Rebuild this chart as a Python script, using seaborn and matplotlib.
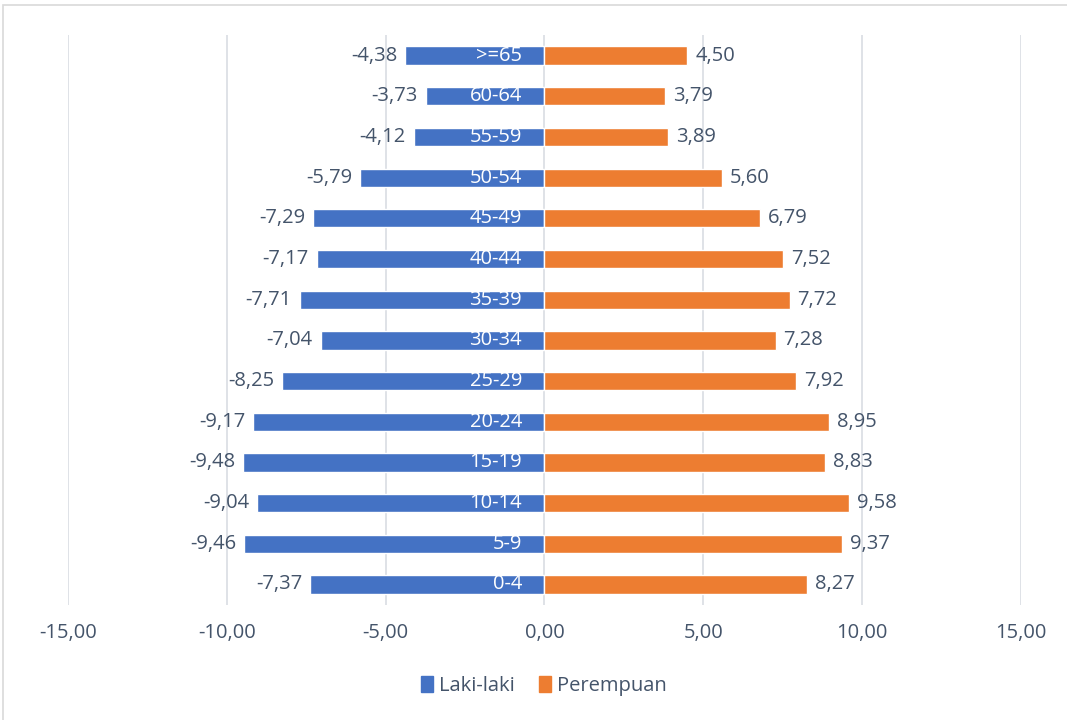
import pandas as pd
import seaborn as sns
import matplotlib.pyplot as plt
from matplotlib.patches import Patch, Rectangle

# age groups, top to bottom
ages = ['>=65', '60-64', '55-59', '50-54', '45-49', '40-44', '35-39',
        '30-34', '25-29', '20-24', '15-19', '10-14', '5-9', '0-4']
laki = [-4.38, -3.73, -4.12, -5.79, -7.29, -7.17, -7.71,
        -7.04, -8.25, -9.17, -9.48, -9.04, -9.46, -7.37]
perempuan = [4.50, 3.79, 3.89, 5.60, 6.79, 7.52, 7.72,
             7.28, 7.92, 8.95, 8.83, 9.58, 9.37, 8.27]
ticks = [-15, -10, -5, 0, 5, 10, 15]

blue = '#4472C4'
orange = '#ED7D31'
txt = '#44546A'
fs = 14.5

df = pd.concat([
    pd.DataFrame({'age': ages, 'value': laki, 'sex': 'Laki-laki'}),
    pd.DataFrame({'age': ages, 'value': perempuan, 'sex': 'Perempuan'}),
])

sns.set_style('white')
plt.rcParams['font.family'] = ['Open Sans', 'DejaVu Sans']

fig = plt.figure(figsize=(10.67, 7.2), dpi=100)
ax = fig.add_axes([0.0637, 0.160, 0.893, 0.791])

sns.barplot(data=df, x='value', y='age', hue='sex', order=ages, dodge=False,
            palette={'Laki-laki': blue, 'Perempuan': orange}, width=0.45,
            legend=False, ax=ax, saturation=1)

def fmt(v):
    return f'{v:.2f}'.replace('.', ',')

for i, (a, l, p) in enumerate(zip(ages, laki, perempuan)):
    ax.text(l - 0.25, i, fmt(l), ha='right', va='center', fontsize=fs, color=txt)
    ax.text(p + 0.25, i, fmt(p), ha='left', va='center', fontsize=fs, color=txt)
    ax.text(-0.7, i, a, ha='right', va='center', fontsize=fs, color='white')

ax.set_xlim(-15, 15)
ax.set_ylim(13.5, -0.5)
ax.set_xticks(ticks)
ax.set_xticklabels([fmt(t) for t in ticks], fontsize=fs, color=txt)
ax.set_yticks([])
ax.set_xlabel('')
ax.set_ylabel('')
ax.tick_params(axis='x', length=0, pad=13)
ax.grid(axis='x', color='#D9DDE3', linewidth=1.2)
ax.set_axisbelow(True)
for s in ax.spines.values():
    s.set_visible(False)

handles = [Patch(color=blue, label='Laki-laki'), Patch(color=orange, label='Perempuan')]
fig.legend(handles=handles, loc='center', bbox_to_anchor=(0.51, 0.047), ncol=2,
           frameon=False, fontsize=fs, labelcolor=txt, handlelength=0.6,
           handleheight=0.8, handletextpad=0.3, columnspacing=1.2)

fig.patches.append(Rectangle((3 / 1067, -0.05), 1.1, 1 - 5 / 720 + 0.05,
                             transform=fig.transFigure, fill=False,
                             edgecolor='#D9D9D9', linewidth=1.2))

plt.savefig('out.png', dpi=100)
